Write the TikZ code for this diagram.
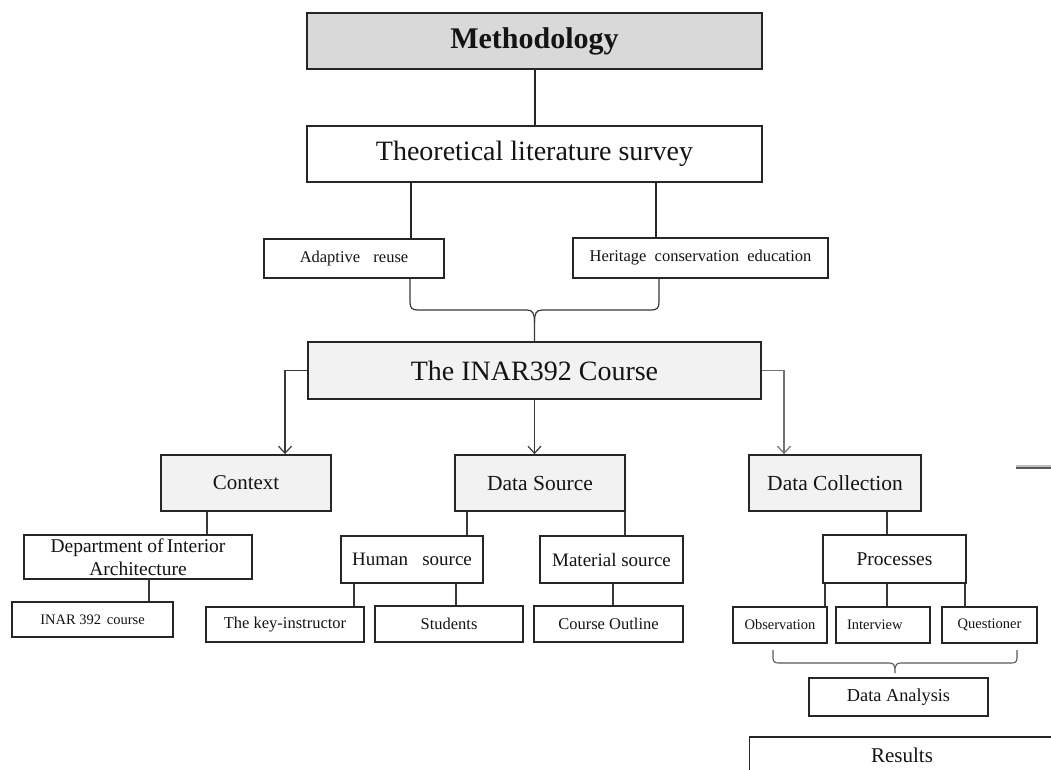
\documentclass[tikz,border=0pt]{standalone}
\usepackage{fontspec}
\setmainfont{Liberation Serif}
\usetikzlibrary{arrows.meta}
\newcommand{\fsz}[2]{\fontsize{#1}{#2}\selectfont}
\begin{document}
\begin{tikzpicture}[x=1pt,y=-1pt,
  box/.style={draw=black!85, line width=1.8pt, inner sep=0pt, text=black!92, rectangle},
  gbox/.style={box, fill=black!5},
  dbox/.style={box, fill=black!15},
  conn/.style={draw=black!78, line width=1.3pt},
  tconn/.style={draw=black!85, line width=2pt},
  arr/.style={conn, -{Straight Barb[length=7pt,width=13pt,line width=1.2pt]}}]
\clip (0,0) rectangle (1051,769);
\fill[white] (0,0) rectangle (1051,769);

% top level
\node[dbox, minimum width=455pt, minimum height=56pt, font=\fsz{30}{34}\bfseries] (meth) at (534.5,41) {Methodology};
\node[box, minimum width=455pt, minimum height=56pt, font=\fsz{28}{32}] (theo) at (534.5,154) {Theoretical literature survey};
\node[box, minimum width=180pt, minimum height=39pt, font=\fsz{16.5}{19}] (ad) at (354,258.5) {Adaptive\hspace{0.8em}reuse};
\node[box, minimum width=255pt, minimum height=40pt, font=\fsz{16.5}{19}] (her) at (700.5,258) {Heritage\hspace{0.5em}conservation\hspace{0.5em}education};
\node[gbox, minimum width=453pt, minimum height=57pt, font=\fsz{28}{32}] (inar) at (534.5,370.5) {The INAR392 Course};

% second level
\node[gbox, minimum width=170pt, minimum height=56pt, font=\fsz{21}{24}] (ctx) at (246,483) {Context};
\node[gbox, minimum width=170pt, minimum height=56pt, font=\fsz{21.5}{24}] (ds) at (540,483) {Data Source};
\node[gbox, minimum width=172pt, minimum height=56pt, font=\fsz{21.5}{24}] (dc) at (835,483) {Data Collection};

% third level
\node[box, minimum width=228pt, minimum height=44pt, font=\fsz{19.5}{22.5}, align=center] (dept) at (138,557) {Department of\,Interior\\Architecture};
\node[box, minimum width=161pt, minimum height=35pt, font=\fsz{14.5}{17}] (inarc) at (92.5,619.5) {INAR 392\hspace{0.4em}course};
\node[box, minimum width=142pt, minimum height=47pt, font=\fsz{19}{22}] (hs) at (412,559.5) {Human\hspace{0.75em}source};
\node[box, minimum width=143pt, minimum height=47pt, font=\fsz{19}{22}] (ms) at (611.5,559.5) {Material source};
\node[box, minimum width=158pt, minimum height=35pt, font=\fsz{16.5}{19}] (key) at (285,624.5) {The key-instructor};
\node[box, minimum width=148pt, minimum height=36pt, font=\fsz{16.5}{19}] (stu) at (449,624) {Students};
\node[box, minimum width=149pt, minimum height=36pt, font=\fsz{16.5}{19}] (co) at (608.5,624) {Course Outline};
\node[box, minimum width=143pt, minimum height=48pt, font=\fsz{19.5}{22}] (proc) at (894.5,559) {Processes};
\node[box, minimum width=94pt, minimum height=36pt, font=\fsz{14.5}{17}] (obs) at (780,625) {Observation};
\node[box, minimum width=94pt, minimum height=36pt, font=\fsz{14.5}{17}, text width=72pt, inner xsep=11pt, align=left] (int) at (883,625) {Interview};
\node[box, minimum width=95pt, minimum height=36pt, font=\fsz{14.5}{17}] (que) at (989.5,625) {Questioner};
\node[box, minimum width=179pt, minimum height=38pt, font=\fsz{18.3}{21}] (da) at (898.5,697) {Data Analysis};
\node[box, minimum width=305pt, minimum height=36pt, font=\fsz{21}{24}] (res) at (902,755) {Results};

% helper x positions
\coordinate (xa) at (411,0);
\coordinate (xh) at (656,0);
\coordinate (xc) at (285,0);
\coordinate (xd) at (784,0);
\coordinate (x1) at (207,0);
\coordinate (x2) at (149,0);
\coordinate (x3) at (467,0);
\coordinate (x4) at (625,0);
\coordinate (x5) at (354,0);
\coordinate (x6) at (456,0);
\coordinate (x7) at (613,0);
\coordinate (x8) at (887,0);
\coordinate (x9) at (825,0);
\coordinate (x10) at (965,0);
\coordinate (bl) at (410,0);
\coordinate (br) at (659,0);

% connectors
\draw[tconn] (meth.south) -- (theo.north);
\draw[tconn] (theo.south -| xa) -- (ad.north -| xa);
\draw[tconn] (theo.south -| xh) -- (her.north -| xh);

% brace under the two topics
\draw[conn, line width=1.2pt] (ad.south -| bl) -- (410,302) .. controls (410,308) and (412,310) .. (418,310)
  -- (527,310) .. controls (533,310) and (534.5,314) .. (534.5,322) -- (inar.north);
\draw[conn, line width=1.2pt] (her.south -| br) -- (659,302) .. controls (659,308) and (657,310) .. (651,310)
  -- (542,310) .. controls (536,310) and (534.5,314) .. (534.5,322);

\draw[arr] (inar.west) -| (ctx.north -| xc);
\draw[arr] (inar.south) -- (inar.south |- ds.north);
\draw[arr, draw=black!55] (inar.east) -| (dc.north -| xd);

\draw[conn] (ctx.south -| x1) -- (dept.north -| x1);
\draw[conn] (dept.south -| x2) -- (inarc.north -| x2);
\draw[conn] (ds.south -| x3) -- (hs.north -| x3);
\draw[conn] (ds.south -| x4) -- (ms.north -| x4);
\draw[conn] (hs.south -| x5) -- (key.north -| x5);
\draw[conn] (hs.south -| x6) -- (stu.north -| x6);
\draw[conn] (ms.south -| x7) -- (co.north -| x7);
\draw[conn] (dc.south -| x8) -- (proc.north -| x8);
\draw[conn] (proc.south -| x9) -- (obs.north -| x9);
\draw[conn] (proc.south -| x8) -- (int.north -| x8);
\draw[conn] (proc.south -| x10) -- (que.north -| x10);

% brace over the data analysis
\draw[conn, draw=black!65, line width=1.1pt] (773,650) -- (773,658) .. controls (773,662) and (775,663) .. (779,663)
  -- (889,663) .. controls (893,663) and (895,665) .. (895,668) -- (895,673);
\draw[conn, draw=black!65, line width=1.1pt] (1017,650) -- (1017,658) .. controls (1017,662) and (1015,663) .. (1011,663)
  -- (901,663) .. controls (897,663) and (895,665) .. (895,668);

% stray line at right edge
\coordinate (s1) at (1016,468);
\coordinate (s2) at (1060,468);
\draw[draw=black!25, line width=2pt] ([yshift=2pt]s1) -- ([yshift=2pt]s2);
\draw[draw=black!65, line width=2.2pt] (s1) -- (s2);
\end{tikzpicture}
\end{document}
